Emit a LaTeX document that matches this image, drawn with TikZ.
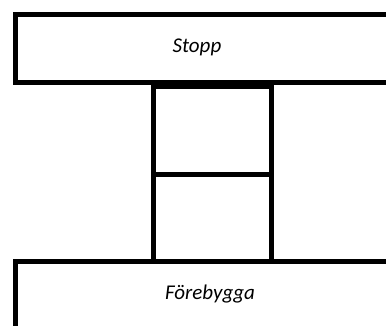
\documentclass[tikz,border=0pt]{standalone}
\usepackage{fontspec}
\setmainfont{Carlito}
\tikzset{
  block/.style={draw=black, line width=5pt, fill=white, inner sep=0pt, outer sep=0pt, anchor=north west},
  lbl/.style={font=\fontsize{21}{25}\selectfont\itshape, text=black, inner sep=0pt, anchor=base}
}
\begin{document}
\begin{tikzpicture}[x=1pt,y=-1pt]
\useasboundingbox (0,0) rectangle (386,326);
\clip (0,0) rectangle (386,326);
\fill[white] (0,0) rectangle (386,326);
% top bar
\node[block, minimum width=400pt, minimum height=67.5pt] (top) at (15.5,15) {};
% middle boxes
\node[block, minimum width=118.5pt, minimum height=87.8pt] (upper) at (153.3,87) {};
\node[block, minimum width=118.5pt, minimum height=86.7pt] (lower) at (153.3,174.8) {};
% bottom bar
\node[block, minimum width=400pt, minimum height=90pt] (bottom) at (15.8,261.5) {};
% labels
\node[lbl] (stopp) at (197,52.5) {Stopp};
\node[lbl] (fore) at (210,299) {Förebygga};
\end{tikzpicture}
\end{document}
